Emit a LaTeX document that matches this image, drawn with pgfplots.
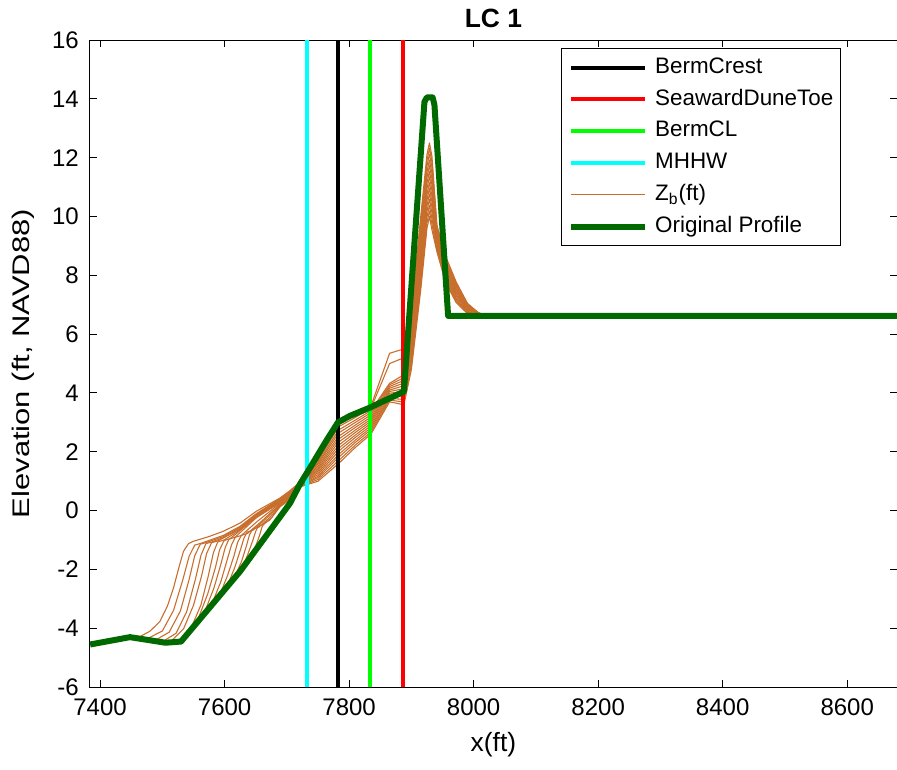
\documentclass[border=0pt]{standalone}
\usepackage{fontspec}
\setmainfont{Liberation Sans}
\usepackage{graphicx}
\usepackage{pgfplots}
\pgfplotsset{compat=1.18}
\definecolor{profgreen}{RGB}{0,105,0}
\definecolor{brownz}{RGB}{200,110,45}
\definecolor{limeg}{RGB}{0,255,0}
\definecolor{cyanl}{RGB}{0,255,255}
\pgfplotsset{zb/.style={brownz, line width=0.55pt, line join=round, forget plot}}
\begin{document}
\begin{tikzpicture}
\begin{axis}[
  scale only axis,
  width=403.5pt, height=323.5pt,
  xmin=7383.5, xmax=8680, ymin=-6, ymax=16,
  xtick={7400,7600,7800,8000,8200,8400,8600},
  xticklabels={7400,7600,7800,8000,8200,8400,8600},
  ytick={-6,-4,-2,0,2,4,6,8,10,12,14,16},
  yticklabels={-6,-4,-2,0,2,4,6,8,10,12,14,16},
  /pgf/number format/assume math mode=true,
  tick label style={font=\fontsize{12}{14}\selectfont},
  xticklabel style={yshift=-2.5pt},
  yticklabel style={xshift=-2pt},
  major tick length=3.5pt,
  every tick/.style={black, line width=0.5pt},
  axis line style={line width=0.5pt},
  every axis title shift=0pt,
  title={LC 1},
  title style={at={(axis description cs:0.5,1.0335)}, anchor=center, yshift=0pt, font=\fontsize{13.2}{15}\selectfont\bfseries},
  xlabel={x(ft)},
  xlabel style={at={(axis description cs:0.5,-0.0896)}, anchor=center, font=\fontsize{13.2}{15}\selectfont},
  ylabel={\scalebox{1.29}[1]{Elevation (ft, NAVD88)}},
  ylabel style={at={(axis description cs:-0.083,0.5)}, anchor=center, font=\fontsize{12}{14}\selectfont},
  legend style={at={(0.9306,0.9876)}, anchor=north east, draw=black, line width=0.5pt, fill=white,
    font=\fontsize{11.2}{13}\selectfont, inner xsep=3.6pt, inner ysep=4.25pt, row sep=5.4pt,
    nodes={inner sep=0pt, text height=8.1pt, text depth=2.4pt, anchor=west},
    /tikz/every odd column/.append style={column sep=3.4pt}},
  legend cell align=left,
  legend image code/.code={\draw[#1, line cap=butt] (0pt,0pt) -- (37pt,0pt);},
]
\coordinate (bl) at (rel axis cs:0,0);
\coordinate (tr) at (rel axis cs:1,1);
% Z_b profiles
\addplot[zb] coordinates {(7384,-4.52)(7448,-4.27)(7464,-4.28)(7480,-4.10)(7496,-3.77)(7508,-3.25)(7518,-2.62)(7527,-1.90)(7534,-1.38)(7542,-1.12)(7550,-1.04)(7575,-0.88)(7598,-0.70)(7625,-0.42)(7651,-0.02)(7689,0.43)(7705,0.68)(7720,0.95)(7750,1.75)(7783,2.95)(7810,3.25)(7835,3.55)(7865,5.35)(7888,5.50)(7900,6.80)(7915,10.00)(7925,12.10)(7929,12.50)(7933,12.05)(7941,9.70)(7955,8.65)(7972,7.77)(7990,7.05)(8008,6.72)(8022,6.62)(8680,6.62)};
\addplot[zb] coordinates {(7384,-4.52)(7448,-4.27)(7477,-4.34)(7500,-4.09)(7518,-3.39)(7533,-2.34)(7543,-1.55)(7552,-1.17)(7562,-1.11)(7598,-0.84)(7625,-0.53)(7651,-0.10)(7689,0.41)(7705,0.66)(7720,0.94)(7750,1.69)(7783,2.85)(7810,3.17)(7835,3.48)(7865,5.00)(7888,5.20)(7900,6.65)(7915,9.81)(7925,11.91)(7929,12.31)(7933,11.86)(7941,9.63)(7955,8.58)(7972,7.72)(7990,7.02)(8008,6.72)(8022,6.62)(8680,6.62)};
\addplot[zb] coordinates {(7384,-4.52)(7448,-4.27)(7490,-4.39)(7511,-4.13)(7529,-3.41)(7543,-2.34)(7552,-1.53)(7561,-1.14)(7571,-1.08)(7598,-0.88)(7625,-0.56)(7651,-0.13)(7689,0.38)(7705,0.63)(7720,0.93)(7750,1.63)(7783,2.74)(7810,3.08)(7835,3.40)(7865,4.33)(7888,4.62)(7900,6.49)(7915,9.62)(7925,11.72)(7929,12.12)(7933,11.67)(7941,9.56)(7955,8.51)(7972,7.66)(7990,7.00)(8008,6.72)(8022,6.62)(8680,6.62)};
\addplot[zb] coordinates {(7384,-4.52)(7448,-4.27)(7502,-4.43)(7522,-4.17)(7539,-3.44)(7553,-2.34)(7562,-1.52)(7570,-1.12)(7580,-1.06)(7598,-0.92)(7625,-0.60)(7651,-0.15)(7689,0.36)(7705,0.61)(7720,0.92)(7750,1.58)(7783,2.64)(7810,3.00)(7835,3.33)(7865,4.28)(7888,4.52)(7900,6.34)(7915,9.42)(7925,11.52)(7929,11.92)(7933,11.47)(7941,9.49)(7955,8.44)(7972,7.61)(7990,6.97)(8008,6.72)(8022,6.62)(8680,6.62)};
\addplot[zb] coordinates {(7384,-4.52)(7448,-4.27)(7505,-4.45)(7515,-4.42)(7534,-4.02)(7550,-3.22)(7563,-2.22)(7571,-1.46)(7579,-1.09)(7589,-1.03)(7625,-0.62)(7651,-0.17)(7689,0.34)(7705,0.59)(7720,0.90)(7750,1.52)(7783,2.53)(7810,2.91)(7835,3.26)(7865,4.22)(7888,4.43)(7900,6.18)(7915,9.23)(7925,11.33)(7929,11.73)(7933,11.28)(7941,9.42)(7955,8.37)(7972,7.55)(7990,6.94)(8008,6.72)(8022,6.62)(8680,6.62)};
\addplot[zb] coordinates {(7384,-4.52)(7448,-4.27)(7505,-4.45)(7528,-4.40)(7546,-4.00)(7562,-3.20)(7574,-2.20)(7582,-1.43)(7589,-1.06)(7599,-1.00)(7625,-0.65)(7651,-0.19)(7689,0.31)(7705,0.56)(7720,0.89)(7750,1.46)(7783,2.43)(7810,2.83)(7835,3.18)(7865,4.16)(7888,4.34)(7900,6.03)(7915,9.04)(7925,11.14)(7929,11.54)(7933,11.09)(7941,9.35)(7955,8.30)(7972,7.50)(7990,6.92)(8008,6.70)(8022,6.62)(8680,6.62)};
\addplot[zb] coordinates {(7384,-4.52)(7448,-4.27)(7505,-4.45)(7530,-4.41)(7541,-4.12)(7558,-3.65)(7573,-2.82)(7585,-1.95)(7592,-1.33)(7599,-1.02)(7609,-0.95)(7651,-0.22)(7689,0.29)(7705,0.54)(7720,0.88)(7750,1.40)(7783,2.33)(7810,2.74)(7835,3.11)(7865,4.10)(7888,4.25)(7900,5.88)(7915,8.85)(7925,10.95)(7929,11.35)(7933,10.90)(7941,9.28)(7955,8.23)(7972,7.45)(7990,6.89)(8008,6.70)(8022,6.62)(8680,6.62)};
\addplot[zb] coordinates {(7384,-4.52)(7448,-4.27)(7505,-4.45)(7530,-4.41)(7553,-3.82)(7569,-3.39)(7583,-2.62)(7594,-1.82)(7601,-1.25)(7607,-0.97)(7617,-0.90)(7651,-0.24)(7689,0.27)(7705,0.52)(7720,0.87)(7750,1.35)(7783,2.22)(7810,2.66)(7835,3.04)(7865,4.05)(7888,4.15)(7900,5.72)(7915,8.65)(7925,10.75)(7929,11.15)(7933,10.70)(7941,9.22)(7955,8.17)(7972,7.39)(7990,6.86)(8008,6.70)(8022,6.62)(8680,6.62)};
\addplot[zb] coordinates {(7384,-4.52)(7448,-4.27)(7505,-4.45)(7530,-4.41)(7566,-3.49)(7581,-3.10)(7594,-2.41)(7604,-1.68)(7611,-1.17)(7617,-0.91)(7627,-0.84)(7651,-0.39)(7689,0.25)(7705,0.50)(7720,0.86)(7750,1.29)(7783,2.12)(7810,2.57)(7835,2.97)(7865,3.99)(7888,4.06)(7900,5.57)(7915,8.46)(7925,10.56)(7929,10.96)(7933,10.51)(7941,9.15)(7955,8.10)(7972,7.34)(7990,6.83)(8008,6.70)(8022,6.62)(8680,6.62)};
\addplot[zb] coordinates {(7384,-4.52)(7448,-4.27)(7505,-4.45)(7530,-4.41)(7579,-3.17)(7593,-2.82)(7605,-2.19)(7615,-1.54)(7621,-1.07)(7627,-0.84)(7637,-0.77)(7660,-0.35)(7689,0.22)(7705,0.47)(7720,0.85)(7750,1.23)(7783,2.02)(7810,2.49)(7835,2.89)(7865,3.93)(7888,3.97)(7900,5.42)(7915,8.27)(7925,10.37)(7929,10.77)(7933,10.32)(7941,9.08)(7955,8.03)(7972,7.29)(7990,6.81)(8008,6.70)(8022,6.62)(8680,6.62)};
\addplot[zb] coordinates {(7384,-4.52)(7448,-4.27)(7505,-4.45)(7530,-4.41)(7592,-2.84)(7605,-2.52)(7616,-1.95)(7625,-1.36)(7631,-0.94)(7636,-0.73)(7646,-0.66)(7665,-0.30)(7689,0.20)(7705,0.45)(7720,0.83)(7750,1.17)(7783,1.91)(7810,2.40)(7835,2.82)(7865,3.87)(7888,3.88)(7900,5.26)(7915,8.08)(7925,10.18)(7929,10.58)(7933,10.13)(7941,9.01)(7955,7.96)(7972,7.23)(7990,6.78)(8008,6.66)(8022,6.62)(8680,6.62)};
\addplot[zb] coordinates {(7384,-4.52)(7448,-4.27)(7505,-4.45)(7530,-4.41)(7604,-2.54)(7616,-2.25)(7627,-1.74)(7635,-1.20)(7640,-0.82)(7645,-0.63)(7655,-0.56)(7670,-0.28)(7689,0.17)(7705,0.42)(7720,0.82)(7750,1.12)(7783,1.81)(7810,2.32)(7835,2.75)(7865,3.82)(7888,3.78)(7900,5.11)(7915,7.88)(7925,9.98)(7929,10.38)(7933,9.93)(7941,8.94)(7955,7.89)(7972,7.18)(7990,6.75)(8008,6.66)(8022,6.62)(8680,6.62)};
\addplot[zb] coordinates {(7384,-4.52)(7448,-4.27)(7505,-4.45)(7530,-4.41)(7617,-2.21)(7628,-1.96)(7637,-1.50)(7645,-1.03)(7650,-0.70)(7654,-0.53)(7664,-0.45)(7676,-0.22)(7689,0.15)(7705,0.40)(7720,0.81)(7750,1.06)(7783,1.70)(7810,2.23)(7835,2.67)(7865,3.76)(7888,3.69)(7900,4.95)(7915,7.69)(7925,9.79)(7929,10.19)(7933,9.74)(7941,8.87)(7955,7.82)(7972,7.12)(7990,6.73)(8008,6.66)(8022,6.62)(8680,6.62)};
\addplot[zb] coordinates {(7384,-4.52)(7448,-4.27)(7505,-4.45)(7530,-4.41)(7625,-2.02)(7630,-1.87)(7640,-1.60)(7649,-1.26)(7656,-0.85)(7660,-0.56)(7664,-0.42)(7672,-0.33)(7689,0.13)(7705,0.38)(7720,0.80)(7750,1.00)(7783,1.60)(7810,2.15)(7835,2.60)(7865,3.70)(7888,3.60)(7900,4.80)(7915,7.50)(7925,9.60)(7929,10.00)(7933,9.55)(7941,8.80)(7955,7.75)(7972,7.07)(7990,6.70)(8008,6.66)(8022,6.62)(8680,6.62)};
% vertical markers
\addplot[black, line width=2pt] coordinates {(7782,-6) (7782,16)};
\addlegendentry{BermCrest}
\addplot[red, line width=2pt] coordinates {(7887,-6) (7887,16)};
\addlegendentry{SeawardDuneToe}
\addplot[limeg, line width=2pt] coordinates {(7834,-6) (7834,16)};
\addlegendentry{BermCL}
\addplot[cyanl, line width=2pt] coordinates {(7733,-6) (7733,16)};
\addlegendentry{MHHW}
\addlegendimage{brownz, line width=0.55pt}
\addlegendentry{Z\textsubscript{b}(ft)}
% original profile
\addplot[profgreen, line width=3pt, line join=round] coordinates {(7384,-4.55)(7448,-4.30)(7505,-4.49)(7530,-4.45)(7625,-2.06)(7705,0.25)(7721,0.90)(7737,1.45)(7764,2.40)(7782,3.00)(7801,3.22)(7833,3.50)(7888,4.05)(7921,13.90)(7925,14.05)(7934,14.05)(7937,13.80)(7959,6.62)(8680,6.62)};
\addlegendentry{Original Profile}
\end{axis}
\pgfresetboundingbox
\path[use as bounding box] ([xshift=-44.9pt,yshift=-41pt]bl) rectangle ([yshift=20pt]tr);
\end{tikzpicture}
\end{document}
